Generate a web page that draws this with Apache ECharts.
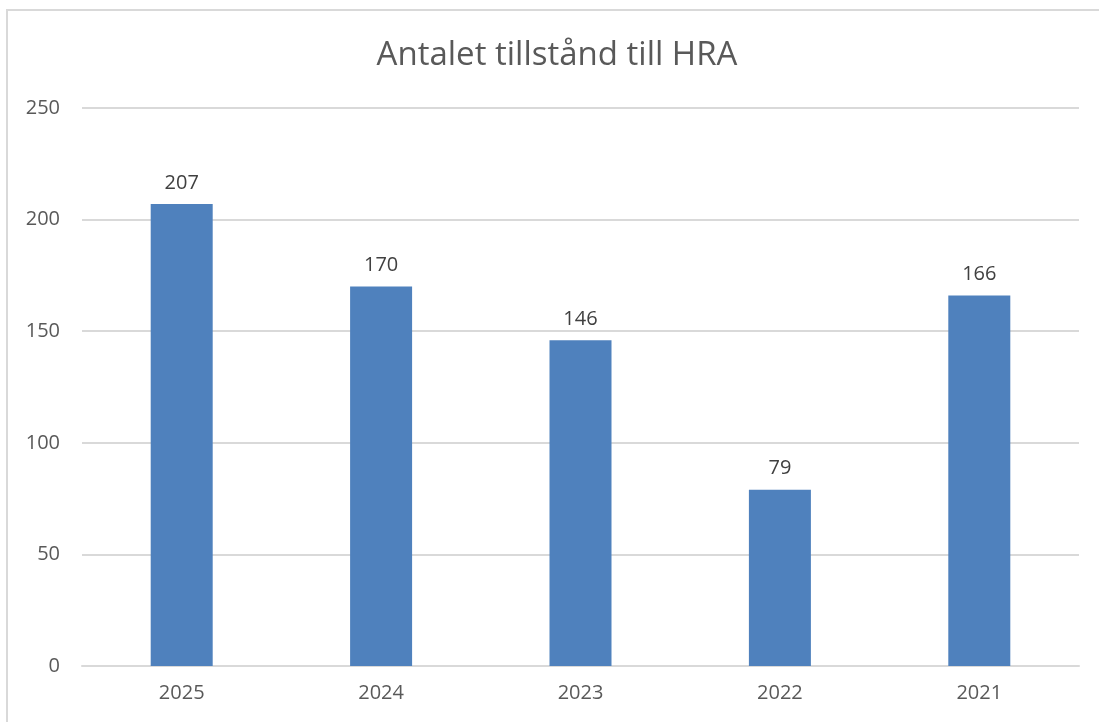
<!DOCTYPE html>
<html>
<head>
<meta charset="utf-8">
<script src="https://cdn.jsdelivr.net/npm/echarts@6/dist/echarts.min.js"></script>
<style>
  html, body { margin: 0; padding: 0; background: #fff; }
  #chart { width: 1099px; height: 722px; }
</style>
</head>
<body>
<div id="chart"></div>
<script>
// chart data
const years = ["2025", "2024", "2023", "2022", "2021"];
const permits = [207, 170, 146, 79, 166];
const yTicks = [0, 50, 100, 150, 200, 250];

const font = "'Open Sans', 'Noto Sans', sans-serif";
const chart = echarts.init(document.getElementById("chart"));

chart.setOption({
  animation: false,
  backgroundColor: "#fff",
  title: {
    text: "Antalet tillstånd till HRA",
    left: 552,
    textAlign: "center",
    top: 34,
    textStyle: { fontFamily: font, fontSize: 33, fontWeight: "normal", color: "#595959" }
  },
  graphic: [
    {
      type: "rect",
      shape: { x: 7, y: 10, width: 1200, height: 800 },
      style: { fill: "none", stroke: "#D9D9D9", lineWidth: 2 },
      silent: true
    }
  ],
  grid: { left: 82, right: 20, top: 108, bottom: 56, containLabel: false },
  xAxis: {
    type: "category",
    data: years,
    axisLine: { lineStyle: { color: "#D9D9D9", width: 2 } },
    axisTick: { show: false },
    axisLabel: { margin: 17, fontFamily: font, fontSize: 20, color: "#595959" }
  },
  yAxis: {
    type: "value",
    min: yTicks[0],
    max: yTicks[yTicks.length - 1],
    interval: yTicks[1] - yTicks[0],
    axisLine: { show: false },
    axisTick: { show: false },
    splitLine: { lineStyle: { color: "#D9D9D9", width: 2 } },
    axisLabel: { margin: 22, fontFamily: font, fontSize: 20, color: "#595959" }
  },
  series: [
    {
      type: "bar",
      data: permits,
      barWidth: 62,
      itemStyle: { color: "#4F81BD" },
      label: {
        show: true,
        position: "top",
        distance: 11,
        fontFamily: font,
        fontSize: 20,
        color: "#404040"
      }
    }
  ]
});
</script>
</body>
</html>
